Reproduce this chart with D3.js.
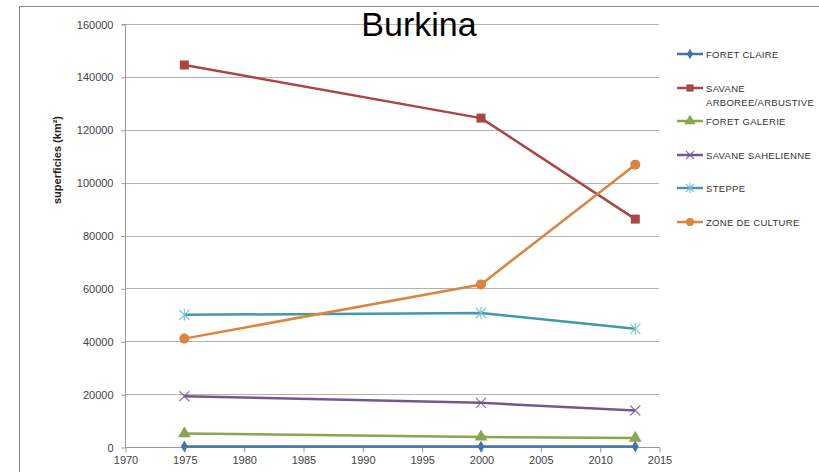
<!DOCTYPE html>
<html><head><meta charset="utf-8">
<script src="https://cdn.jsdelivr.net/npm/d3@7"></script>
<style>body{margin:0;background:#fff}svg{display:block}</style>
</head><body><svg id="c" width="819" height="472"></svg>
<script>
const years = [1975, 2000, 2013];
const seriesNames = ["FORET CLAIRE", "SAVANE ARBOREE/ARBUSTIVE", "FORET GALERIE", "SAVANE SAHELIENNE", "STEPPE", "ZONE DE CULTURE"];
const foretClaire = [200, 150, 150];
const savaneArboree = [144500, 124400, 86200];
const foretGalerie = [5100, 3800, 3400];
const savaneSahelienne = [19200, 16700, 13800];
const steppe = [50000, 50700, 44700];
const zoneCulture = [41000, 61500, 106800];
const xTicks = [1970, 1975, 1980, 1985, 1990, 1995, 2000, 2005, 2010, 2015];
const yTicks = [0, 20000, 40000, 60000, 80000, 100000, 120000, 140000, 160000];
const colors = ["#4572A7", "#AA4643", "#89A54E", "#71588F", "#4198AF", "#DB843D"];
const markers = ["diamond", "square", "triangle", "x", "star", "circle"];
const legendLines = [["FORET CLAIRE"], ["SAVANE", "ARBOREE/ARBUSTIVE"], ["FORET GALERIE"], ["SAVANE SAHELIENNE"], ["STEPPE"], ["ZONE DE CULTURE"]];
const allValues = [foretClaire, savaneArboree, foretGalerie, savaneSahelienne, steppe, zoneCulture];

const svg = d3.select("#c");
const font = "'Liberation Sans', Arial, sans-serif";
// outer border
svg.append("path").attr("d", "M19.5,472 V6.5 H819").attr("fill", "none").attr("stroke", "#888").attr("stroke-width", 1);

const x = d3.scaleLinear().domain([1970, 2015]).range([125, 659]);
const y = d3.scaleLinear().domain([0, 160000]).range([447, 24]);

// gridlines
svg.append("g").selectAll("line").data(yTicks.slice(1)).join("line")
  .attr("x1", 125).attr("x2", 659).attr("y1", d => Math.round(y(d)) + 0.5).attr("y2", d => Math.round(y(d)) + 0.5)
  .attr("stroke", "#b3b3b3").attr("stroke-width", 1);

// y axis
const ya = svg.append("g").attr("transform", "translate(125.5,0.5)")
  .call(d3.axisLeft(y).tickValues(yTicks).tickSize(4).tickPadding(8).tickFormat(d3.format("d")));
ya.select(".domain").attr("stroke", "#999").attr("d", `M-4,${y(160000)}H0V${y(0)}`);
ya.selectAll(".tick line").attr("stroke", "#999");
ya.selectAll("text").attr("font-family", font).attr("font-size", 11).attr("fill", "#444");

// x axis
const xa = svg.append("g").attr("transform", `translate(0.5,${Math.round(y(0)) + 0.5})`)
  .call(d3.axisBottom(x).tickValues(xTicks).tickSize(5).tickPadding(4).tickFormat(d3.format("d")));
xa.select(".domain").attr("stroke", "#999").attr("d", `M${x(1970)},0H${x(2015)}`);
xa.selectAll(".tick line").attr("stroke", "#999");
xa.selectAll("text").attr("font-family", font).attr("font-size", 11).attr("fill", "#444");

// y label
svg.append("text").attr("transform", "translate(61,160) rotate(-90)").attr("text-anchor", "middle")
  .attr("font-family", font).attr("font-size", 11).attr("font-weight", "bold").attr("fill", "#222")
  .text("superficies  (km²)");

// title
svg.append("text").attr("x", 419).attr("y", 36).attr("text-anchor", "middle")
  .attr("font-family", font).attr("font-size", 34).attr("fill", "#000").text("Burkina");

function drawMarker(g, type, cx, cy, color, s) {
  s = s || 1;
  if (type === "diamond") {
    g.append("path").attr("d", d3.symbol(d3.symbolDiamond, 40 * s)()).attr("transform", `translate(${cx},${cy})`).attr("fill", color);
  } else if (type === "square") {
    g.append("rect").attr("x", cx - 4.5 * s).attr("y", cy - 4.5 * s).attr("width", 9 * s).attr("height", 9 * s).attr("fill", color);
  } else if (type === "triangle") {
    g.append("path").attr("d", d3.symbol(d3.symbolTriangle, 70 * s)()).attr("transform", `translate(${cx},${cy})`).attr("fill", color);
  } else if (type === "x") {
    const r = 5 * s;
    g.append("path").attr("d", `M${cx - r},${cy - r}L${cx + r},${cy + r}M${cx - r},${cy + r}L${cx + r},${cy - r}`).attr("stroke", color).attr("stroke-width", 1.2).attr("fill", "none").attr("opacity", 0.8);
  } else if (type === "star") {
    const r = 5 * s;
    g.append("path").attr("d", `M${cx - r},${cy - r}L${cx + r},${cy + r}M${cx - r},${cy + r}L${cx + r},${cy - r}M${cx},${cy - r - 1}L${cx},${cy + r + 1}`).attr("stroke", "#7fc2d4").attr("stroke-width", 1.2).attr("fill", "none");
  } else if (type === "circle") {
    g.append("circle").attr("cx", cx).attr("cy", cy).attr("r", 5 * s).attr("fill", color);
  }
}

const line = d3.line().x((d, i) => x(years[i])).y(d => y(d));
const plot = svg.append("g");
allValues.forEach((vals, k) => {
  plot.append("path").datum(vals).attr("d", line).attr("fill", "none").attr("stroke", colors[k]).attr("stroke-width", 2.5).attr("stroke-linejoin", "round");
  vals.forEach((v, i) => drawMarker(plot, markers[k], x(years[i]), y(v), colors[k]));
});

// legend
const legendY = [54, 88, 121, 155, 188, 222];
const lg = svg.append("g");
legendLines.forEach((lines, k) => {
  const ly = legendY[k];
  lg.append("line").attr("x1", 677).attr("x2", 703).attr("y1", ly).attr("y2", ly).attr("stroke", colors[k]).attr("stroke-width", 2.5);
  drawMarker(lg, markers[k], 690, ly, colors[k], 0.8);
  lines.forEach((t, j) => {
    lg.append("text").attr("x", 706).attr("y", ly + 3.5 + j * 14).attr("font-family", font).attr("font-size", 9.5)
      .attr("letter-spacing", 0.3).attr("fill", "#333").text(t);
  });
});
</script></body></html>
